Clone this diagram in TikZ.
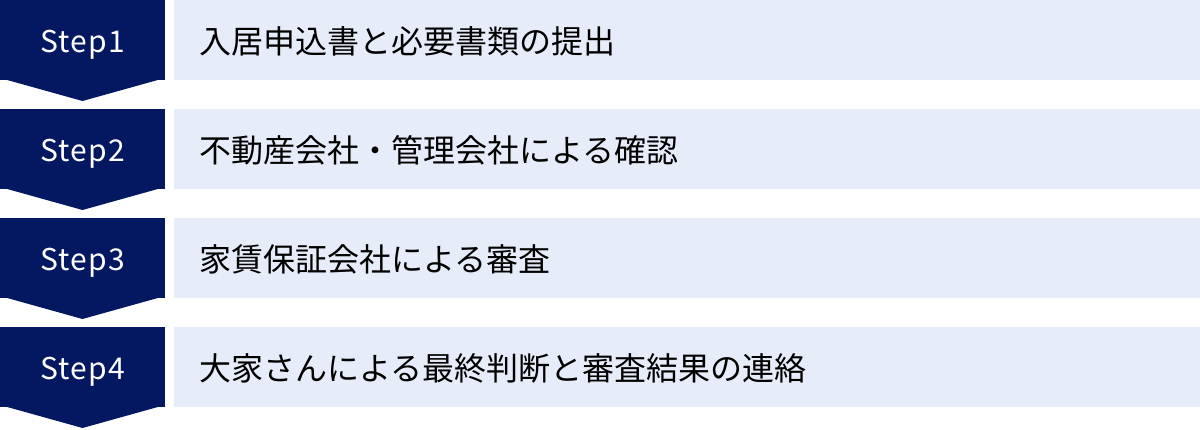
\documentclass[tikz,border=0pt]{standalone}
\usepackage{fontspec}
\setmainfont{Noto Sans CJK JP}
\newfontfamily\stepfont[LetterSpace=4]{Noto Sans CJK JP}
\usetikzlibrary{positioning}
\definecolor{navy}{RGB}{4,24,98}
\definecolor{paleblue}{RGB}{230,236,249}
\tikzset{stepbox/.style={fill=navy,text=white,minimum width=82.5pt,minimum height=40pt,inner sep=0pt,outer sep=0pt,text height=12pt,text depth=0pt,font=\stepfont\fontsize{15}{15}\selectfont}}
\tikzset{taskbox/.style={fill=paleblue,minimum height=40pt,text width=488pt,inner xsep=12.5pt,inner ysep=0pt,outer sep=0pt,text height=13pt,text depth=0pt,align=left,font=\fontsize{16}{16}\selectfont}}
\tikzset{tip/.style={fill=navy}}

\begin{document}
\begin{tikzpicture}
    \useasboundingbox (0,0) rectangle (600pt,-214.5pt);

    \node[stepbox,anchor=north west] (s1) at (0,0) {Step1};
    \node[taskbox,right=4.5pt of s1] (t1) {入居申込書と必要書類の提出};
    \coordinate[below=10.5pt of s1.south] (p1);
        \path[tip] ([yshift=1pt]s1.south west) -- ([yshift=1pt]s1.south east) -- (p1) -- cycle;

    \node[stepbox,below=14.5pt of s1] (s2) {Step2};
    \node[taskbox,right=4.5pt of s2] (t2) {不動産会社・管理会社による確認};
    \coordinate[below=10.5pt of s2.south] (p2);
        \path[tip] ([yshift=1pt]s2.south west) -- ([yshift=1pt]s2.south east) -- (p2) -- cycle;

    \node[stepbox,below=14.5pt of s2] (s3) {Step3};
    \node[taskbox,right=4.5pt of s3] (t3) {家賃保証会社による審査};
    \coordinate[below=10.5pt of s3.south] (p3);
        \path[tip] ([yshift=1pt]s3.south west) -- ([yshift=1pt]s3.south east) -- (p3) -- cycle;

    \node[stepbox,below=14.5pt of s3] (s4) {Step4};
    \node[taskbox,right=4.5pt of s4] (t4) {大家さんによる最終判断と審査結果の連絡};
    \coordinate[below=10.5pt of s4.south] (p4);
        \path[tip] ([yshift=1pt]s4.south west) -- ([yshift=1pt]s4.south east) -- (p4) -- cycle;
\end{tikzpicture}
\end{document}
